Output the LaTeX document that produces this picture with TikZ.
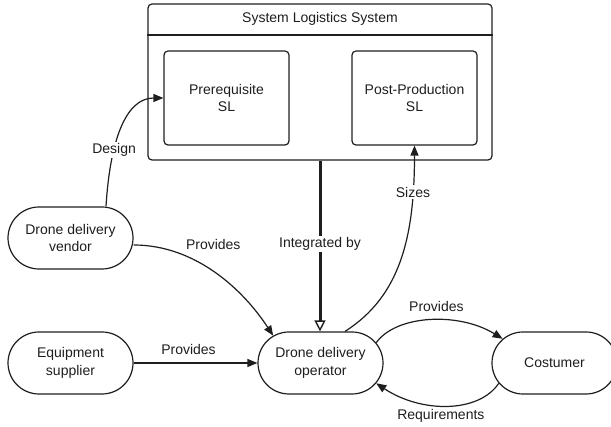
\documentclass[tikz,border=0pt]{standalone}
\usepackage{fontspec}
\setmainfont{Liberation Sans}
\usetikzlibrary{arrows.meta,shapes.misc}
\definecolor{ink}{HTML}{1E1E1E}
\begin{document}
\begin{tikzpicture}[x=1pt,y=1pt,
  font=\fontsize{14}{17.5}\selectfont,
  every node/.style={text=ink},
  pill/.style={draw=ink, line width=1.2pt, rounded rectangle, minimum width=125pt, minimum height=62pt, inner sep=0pt, align=center},
  slbox/.style={draw=ink, line width=1.2pt, rounded corners=4pt, minimum width=125pt, minimum height=94pt, inner sep=0pt, align=center},
  conn/.style={draw=ink, line width=1.2pt, -{Triangle[length=10pt,width=8pt]}},
  strong/.style={draw=ink, line width=3pt, -{Triangle[open,length=11pt,width=11pt,line width=1.4pt]}},
  lbl/.style={fill=white, inner sep=1.5pt}
]
\useasboundingbox (0,0) rectangle (611,427);

% container with header
\node[draw=ink, line width=1.2pt, rounded corners=4pt, minimum width=344pt, minimum height=156pt, inner sep=0pt] (sls) at (320,345) {};
\node (slstitle) at (320,408) {System Logistics System};
\draw[ink, line width=1.2pt] (sls.west |- 0,392) -- (sls.east |- 0,392);

\node[slbox] (pre)  at (226.5,329) {Prerequisite\\SL};
\node[slbox] (post) at (414.5,329) {Post-Production\\SL};

% actors
\node[pill] (vendor)   at (70.5,189)  {Drone delivery\\vendor};
\node[pill] (supplier) at (70.5,64)   {Equipment\\supplier};
\node[pill] (operator) at (320.5,64)  {Drone delivery\\operator};
\node[pill] (costumer) at (554.5,64)  {Costumer};

% connectors
\draw[conn] ([xshift=35.5pt]vendor.north) .. controls +(4,65) and +(-38,0) .. (pre.west)
  node[lbl, pos=0.33] {Design};
\draw[conn] ([yshift=-7pt]vendor.east) .. controls +(62,0) and +(-30,46) .. (operator.150)
  node[pos=0.45, xshift=5pt, yshift=24pt] {Provides};
\draw[conn] (supplier.east) -- (operator.west)
  node[midway, xshift=-7pt, yshift=13pt] {Provides};
\draw[strong] (sls.south) -- (sls.south |- operator.north)
  node[lbl, pos=0.49] {Integrated by};
\draw[conn] ([xshift=24.5pt]operator.north) .. controls +(55,35) and +(0,-92) .. (post.south)
  node[lbl, pos=0.82] {Sizes};
\draw[conn] (operator.20) .. controls +(20,28) and +(-44,27) .. (costumer.155)
  node[pos=0.5, xshift=6pt, yshift=14pt] {Provides};
\draw[conn] (costumer.200) .. controls +(-20,-30) and +(45,-30) .. (operator.-20)
  node[pos=0.5, xshift=-6pt, yshift=-10.5pt] {Requirements};
\end{tikzpicture}
\end{document}
